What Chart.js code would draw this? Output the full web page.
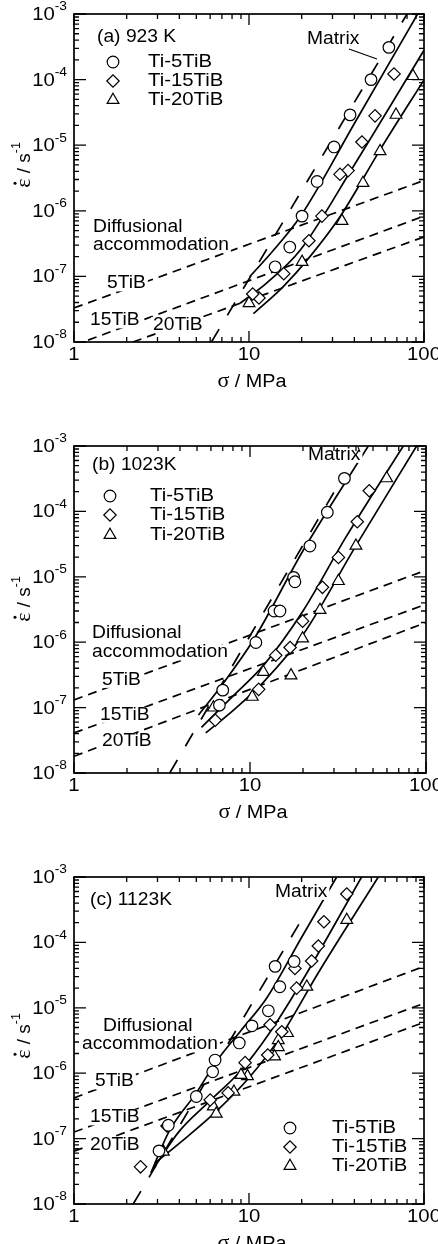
<!DOCTYPE html>
<html>
<head>
<meta charset="utf-8">
<title>Creep rate vs stress, Ti-TiB</title>
<script src="https://cdn.jsdelivr.net/npm/chart.js@4.4.1/dist/chart.umd.min.js"></script>
<style>
  html, body { margin: 0; padding: 0; background: #fff; }
  body { width: 438px; height: 1244px; position: relative; overflow: hidden; }
  .panel { position: absolute; left: 0; width: 438px; }
</style>
</head>
<body>
<div class="panel" style="top:0;height:400px"><canvas id="panelA"></canvas></div>
<div class="panel" style="top:400px;height:420px"><canvas id="panelB"></canvas></div>
<div class="panel" style="top:820px;height:424px"><canvas id="panelC"></canvas></div>
<script>
// axis ticks
const xMajor = [1, 10, 100];
const xMinor = [2, 3, 4, 5, 6, 7, 8, 9, 20, 30, 40, 50, 60, 70, 80, 90];
const yExps = [-8, -7, -6, -5, -4, -3];
const yMinorMult = [2, 3, 4, 5, 6, 7, 8, 9];

// (a) 923 K - measured points
const aTi5X = [63, 49.8, 37.8, 30.6, 24.5, 20.1, 17.1, 14.1];
const aTi5Y = [3.1e-4, 1.0e-4, 2.9e-5, 9.4e-6, 2.8e-6, 8.3e-7, 2.8e-7, 1.4e-7];
const aTi15X = [67.4, 52.5, 44.2, 36.8, 33.1, 26.1, 22.0, 15.8, 11.4, 10.5];
const aTi15Y = [1.22e-4, 2.8e-5, 1.12e-5, 4.1e-6, 3.6e-6, 8.3e-7, 3.5e-7, 1.1e-7, 4.7e-8, 5.4e-8];
const aTi20X = [86.5, 69.2, 56.1, 44.8, 34, 20.1, 10];
const aTi20Y = [1.13e-4, 2.9e-5, 8.1e-6, 2.65e-6, 7.0e-7, 1.66e-7, 3.9e-8];
// (a) lines
const aMatrixX = [6.1, 80];
const aMatrixY = [1e-8, 1e-3];
const aFit5X = [10.1, 13.8, 19.6, 41, 92];
const aFit5Y = [9.9e-8, 2.5e-7, 8.1e-7, 2.4e-5, 1e-3];
const aFit15X = [8.9, 12.6, 19.6, 39.4, 100];
const aFit15Y = [3.9e-8, 7.9e-8, 2.5e-7, 4.7e-6, 2.8e-4];
const aFit20X = [10.6, 15.7, 22.3, 33.1, 56.1, 100];
const aFit20Y = [2.7e-8, 7e-8, 2e-7, 8.1e-7, 8.5e-6, 9.9e-5];
const aDiff5X = [1, 100], aDiff5Y = [3.3e-8, 2.9e-6];
const aDiff15X = [1, 100], aDiff15Y = [8.9e-9, 8.3e-7];
const aDiff20X = [2.17, 100], aDiff20Y = [1e-8, 4.0e-7];

// (b) 1023 K - measured points
const bTi5X = [34.4, 27.5, 21.9, 17.7, 18.0, 13.7, 14.8, 10.8, 7.0, 6.7];
const bTi5Y = [3.2e-4, 9.7e-5, 2.95e-5, 9.8e-6, 8.4e-6, 3.0e-6, 3.0e-6, 9.9e-7, 1.85e-7, 1.09e-7];
const bTi15X = [47.6, 40.7, 31.8, 25.8, 19.9, 16.9, 14.0, 11.2, 6.35];
const bTi15Y = [2.07e-4, 6.95e-5, 1.98e-5, 6.9e-6, 2.1e-6, 8.3e-7, 6.3e-7, 1.9e-7, 6.4e-8];
const bTi20X = [59.8, 40.0, 31.8, 25.0, 19.9, 11.9, 17.1, 10.3, 6.2];
const bTi20Y = [3.2e-4, 2.98e-5, 8.6e-6, 3.1e-6, 1.14e-6, 3.5e-7, 3.1e-7, 1.46e-7, 1.0e-7];
// (b) lines
const bMatrixX = [3.5, 34];
const bMatrixY = [1e-8, 3.5e-4];
const bFit5X = [5.1, 7, 10.5, 20, 47];
const bFit5Y = [7.7e-8, 2.3e-7, 1.1e-6, 2.5e-5, 1e-3];
const bFit15X = [5.3, 8, 12, 20, 35, 74.3];
const bFit15Y = [5e-8, 1.5e-7, 4.5e-7, 3e-6, 4e-5, 1e-3];
const bFit20X = [5.6, 8, 12, 20, 40, 88.5];
const bFit20Y = [4.1e-8, 9e-8, 2.5e-7, 1.3e-6, 3e-5, 1e-3];
const bDiff5X = [1, 100], bDiff5Y = [1.31e-7, 1.26e-5];
const bDiff15X = [1, 100], bDiff15Y = [4.1e-8, 3.8e-6];
const bDiff20X = [1, 100], bDiff20Y = [1.8e-8, 2.0e-6];

// (c) 1123 K - measured points
const cTi5X = [14.1, 18.1, 15.0, 12.9, 10.4, 8.8, 6.4, 6.2, 5.0, 3.46, 3.06];
const cTi5Y = [4.3e-5, 5.1e-5, 2.1e-5, 9.0e-6, 5.3e-6, 2.9e-6, 1.59e-6, 1.05e-6, 4.4e-7, 1.6e-7, 6.5e-8];
const cTi15X = [36.2, 26.8, 24.9, 22.8, 18.3, 18.7, 15.4, 13.2, 12.8, 9.5, 7.6, 6.0, 3.4, 2.4];
const cTi15Y = [5.5e-4, 2.07e-4, 8.8e-5, 5.2e-5, 4.0e-5, 2.0e-5, 4.3e-6, 5.5e-6, 1.9e-6, 1.45e-6, 5.0e-7, 3.9e-7, 1.56e-7, 3.7e-8];
const cTi20X = [36.2, 21.4, 16.6, 14.7, 14.7, 14.0, 9.8, 9.0, 8.2, 6.25, 6.5, 3.24];
const cTi20Y = [2.2e-4, 2.1e-5, 4.1e-6, 3.2e-6, 2.5e-6, 1.8e-6, 9.0e-7, 9.4e-7, 5.2e-7, 3.1e-7, 2.4e-7, 6.3e-8];
// (c) lines
const cMatrixX = [2.18, 20.5];
const cMatrixY = [1e-8, 2.5e-4];
const cFit5X = [2.75, 3.5, 5, 6.5, 9, 12.6, 20, 31.7];
const cFit5Y = [3e-8, 1.3e-7, 5e-7, 1.5e-6, 4.5e-6, 1.4e-5, 1.2e-4, 1e-3];
const cFit15X = [2.85, 4, 6, 9, 13, 20, 44];
const cFit15Y = [3.5e-8, 1.3e-7, 3.8e-7, 1.1e-6, 4e-6, 2.5e-5, 1e-3];
const cFit20X = [2.9, 4.5, 6.5, 10, 15, 25, 54.8];
const cFit20Y = [4.2e-8, 1.1e-7, 2.6e-7, 8.5e-7, 3.5e-6, 3.5e-5, 1e-3];
const cDiff5X = [1, 100], cDiff5Y = [4.2e-7, 4.3e-5];
const cDiff15X = [1, 100], cDiff15Y = [1.26e-7, 1.17e-5];
const cDiff20X = [1, 100], cDiff20Y = [6.4e-8, 6e-6];

const legendNames = ['Ti-5TiB', 'Ti-15TiB', 'Ti-20TiB'];
const markerStyles = ['circle', 'rectRot', 'triangle'];
const markerSizes = [5.8, 6.2, 6.8];

const SANS = '"Liberation Sans", Arial, sans-serif';
const SERIF = '"Liberation Serif", "Times New Roman", serif';
const SX = 1.1; // the original figure is a bit wider than tall

function pts(xs, ys) {
    return xs.map((x, i) => ({ x: x, y: ys[i] }));
}

function markerSet(xs, ys, k) {
    return {
        data: pts(xs, ys), showLine: false, order: 0,
        pointStyle: markerStyles[k], pointRadius: markerSizes[k],
        pointBorderWidth: 1.2, pointBorderColor: '#000', pointBackgroundColor: '#fff'
    };
}

function lineSet(xs, ys, dash, curved) {
    return {
        data: pts(xs, ys), showLine: true, order: 1, fill: false,
        pointRadius: 0, borderColor: '#000', borderWidth: 1.7,
        borderDash: dash, cubicInterpolationMode: curved ? 'monotone' : 'default'
    };
}

const MATRIX_DASH = [15, 16];
const DIFF_DASH = [9, 6];

function buildSets(m5, m15, m20, matrix, f5, f15, f20, d5, d15, d20) {
    return [
        markerSet(m5[0], m5[1], 0),
        markerSet(m15[0], m15[1], 1),
        markerSet(m20[0], m20[1], 2),
        lineSet(matrix[0], matrix[1], MATRIX_DASH, false),
        lineSet(f5[0], f5[1], [], true),
        lineSet(f15[0], f15[1], [], true),
        lineSet(f20[0], f20[1], [], true),
        lineSet(d5[0], d5[1], DIFF_DASH, false),
        lineSet(d15[0], d15[1], DIFF_DASH, false),
        lineSet(d20[0], d20[1], DIFF_DASH, false)
    ];
}

// text helper, draws with a slight horizontal stretch
function drawText(ctx, str, x, y, size, align, family, bg) {
    ctx.save();
    ctx.font = size + 'px ' + (family || SANS);
    ctx.textBaseline = 'middle';
    const w = ctx.measureText(str).width * SX;
    const x0 = align === 'right' ? x - w : (align === 'center' ? x - w / 2 : x);
    if (bg) {
        ctx.fillStyle = '#fff';
        ctx.fillRect(x0 - 2, y - size * 0.45, w + 4, size * 0.9);
    }
    ctx.fillStyle = '#000';
    ctx.translate(x0, y);
    ctx.scale(SX, 1);
    ctx.fillText(str, 0, 0);
    ctx.restore();
    return w;
}

function drawMarker(ctx, style, x, y, r) {
    ctx.beginPath();
    if (style === 'circle') {
        ctx.arc(x, y, r, 0, Math.PI * 2);
    } else if (style === 'rectRot') {
        ctx.moveTo(x - r, y); ctx.lineTo(x, y - r); ctx.lineTo(x + r, y); ctx.lineTo(x, y + r);
        ctx.closePath();
    } else {
        for (let i = 0; i < 3; i++) {
            const a = i * 2 * Math.PI / 3;
            const px = x + Math.sin(a) * r, py = y - Math.cos(a) * r;
            if (i === 0) ctx.moveTo(px, py); else ctx.lineTo(px, py);
        }
        ctx.closePath();
    }
    ctx.fillStyle = '#fff';
    ctx.fill();
    ctx.lineWidth = 1.2;
    ctx.strokeStyle = '#000';
    ctx.stroke();
}

function decorPlugin(p) {
    return {
        id: 'decor',
        afterDatasetsDraw(chart) {
            const ctx = chart.ctx, a = chart.chartArea;
            const xs = chart.scales.x, ys = chart.scales.y;
            ctx.save();
            ctx.strokeStyle = '#000';

            // annotation texts (white box hides the dashed lines under them)
            p.notes.forEach(n => drawText(ctx, n[0], n[1], n[2], 17.5, 'left', SANS, true));
            drawText(ctx, p.label[0], p.label[1], p.label[2], 17.5, 'left');
            drawText(ctx, 'Matrix', p.matrix[0], p.matrix[1], 17.5, 'left', SANS, true);
            if (p.leader) {
                ctx.lineWidth = 1.1;
                ctx.beginPath();
                ctx.moveTo(p.leader[0], p.leader[1]);
                ctx.lineTo(p.leader[2], p.leader[3]);
                ctx.stroke();
            }

            // legend
            legendNames.forEach((name, k) => {
                drawMarker(ctx, markerStyles[k], p.legend.x, p.legend.ys[k], markerSizes[k]);
                drawText(ctx, name, p.legend.textX, p.legend.ys[k], 18.5, 'left');
            });

            // frame
            ctx.lineWidth = 1.7;
            ctx.strokeRect(a.left, a.top, a.right - a.left, a.bottom - a.top);

            // inward ticks on all four sides
            ctx.lineWidth = 1.3;
            ctx.beginPath();
            const vx = (v, len) => {
                const px = xs.getPixelForValue(v);
                ctx.moveTo(px, a.bottom); ctx.lineTo(px, a.bottom - len);
                ctx.moveTo(px, a.top); ctx.lineTo(px, a.top + len);
            };
            const hy = (v, len) => {
                const py = ys.getPixelForValue(v);
                ctx.moveTo(a.left, py); ctx.lineTo(a.left + len, py);
                ctx.moveTo(a.right, py); ctx.lineTo(a.right - len, py);
            };
            xMajor.forEach(v => vx(v, 11));
            xMinor.forEach(v => vx(v, 5));
            yExps.forEach(e => {
                hy(Math.pow(10, e), 12);
                if (e < -3) yMinorMult.forEach(m => hy(m * Math.pow(10, e), 5));
            });
            ctx.stroke();

            // tick labels
            xMajor.forEach(v => drawText(ctx, String(v), xs.getPixelForValue(v), a.bottom + 13, 18.5, 'center'));
            yExps.forEach(e => {
                const py = ys.getPixelForValue(Math.pow(10, e));
                const ew = drawText(ctx, String(e), a.left - 7, py - 7, 12.5, 'right');
                drawText(ctx, '10', a.left - 7 - ew, py + 1, 18.5, 'right');
            });

            // x title
            ctx.font = '20px ' + SERIF;
            const sw = ctx.measureText('\u03c3').width * SX;
            ctx.font = '18px ' + SANS;
            const rw = ctx.measureText(' / MPa').width * SX;
            const cx = (a.left + a.right) / 2 + 3 - (sw + rw) / 2;
            drawText(ctx, '\u03c3', cx, a.bottom + 40, 20, 'left', SERIF);
            drawText(ctx, ' / MPa', cx + sw, a.bottom + 40, 18, 'left');

            // y title, rotated
            ctx.save();
            ctx.translate(30, p.titleY);
            ctx.rotate(-Math.PI / 2);
            ctx.fillStyle = '#000';
            ctx.textBaseline = 'alphabetic';
            ctx.font = '22px ' + SERIF;
            const epsW = ctx.measureText('\u03b5').width;
            ctx.font = '19px ' + SANS;
            const midW = ctx.measureText(' / s').width;
            ctx.font = '12.5px ' + SANS;
            const supW = ctx.measureText('-1').width;
            let tx = -(epsW + midW + supW) / 2;
            ctx.font = '22px ' + SERIF;
            ctx.fillText('\u03b5', tx, 0);
            ctx.beginPath();
            ctx.arc(tx + epsW / 2, -15, 1.5, 0, Math.PI * 2);
            ctx.fill();
            tx += epsW;
            ctx.font = '19px ' + SANS;
            ctx.fillText(' / s', tx, 0);
            tx += midW;
            ctx.font = '12.5px ' + SANS;
            ctx.fillText('-1', tx, -10);
            ctx.restore();

            ctx.restore();
        }
    };
}

function makePanel(p) {
    new Chart(document.getElementById(p.canvas), {
        type: 'scatter',
        data: { datasets: p.sets },
        options: {
            responsive: true,
            maintainAspectRatio: false,
            animation: false,
            events: [],
            devicePixelRatio: 1,
            layout: { padding: { top: p.top, right: p.right, left: 0, bottom: 0 } },
            plugins: { legend: { display: false }, tooltip: { enabled: false }, title: { display: false } },
            scales: {
                x: {
                    type: 'logarithmic', min: 1, max: 100,
                    grid: { display: false }, border: { display: false }, ticks: { display: false },
                    afterFit: s => { s.height = p.axisH; }
                },
                y: {
                    type: 'logarithmic', min: 1e-8, max: 1e-3,
                    grid: { display: false }, border: { display: false }, ticks: { display: false },
                    afterFit: s => { s.width = 74; }
                }
            }
        },
        plugins: [decorPlugin(p)]
    });
}

makePanel({
    canvas: 'panelA', top: 14, right: 14, axisH: 58, titleY: 165,
    label: ['(a) 923 K', 97, 37.5],
    matrix: [307, 39.5], leader: [349, 49, 377, 59],
    legend: { x: 113, textX: 148, ys: [62, 81, 100] },
    notes: [['Diffusional', 93, 227.5], ['accommodation', 93, 245], ['5TiB', 107, 283.5],
            ['15TiB', 90, 320.5], ['20TiB', 153, 325]],
    sets: buildSets([aTi5X, aTi5Y], [aTi15X, aTi15Y], [aTi20X, aTi20Y], [aMatrixX, aMatrixY],
        [aFit5X, aFit5Y], [aFit15X, aFit15Y], [aFit20X, aFit20Y],
        [aDiff5X, aDiff5Y], [aDiff15X, aDiff15Y], [aDiff20X, aDiff20Y])
});

makePanel({
    canvas: 'panelB', top: 46, right: 12, axisH: 47, titleY: 199,
    label: ['(b) 1023K', 92, 65],
    matrix: [308, 55], leader: [358, 47, 360, 52],
    legend: { x: 110, textX: 150, ys: [96, 115, 135] },
    notes: [['Diffusional', 92, 233.5], ['accommodation', 92, 252.5], ['5TiB', 102, 280],
            ['15TiB', 100, 315], ['20TiB', 102, 341.5]],
    sets: buildSets([bTi5X, bTi5Y], [bTi15X, bTi15Y], [bTi20X, bTi20Y], [bMatrixX, bMatrixY],
        [bFit5X, bFit5Y], [bFit15X, bFit15Y], [bFit20X, bFit20Y],
        [bDiff5X, bDiff5Y], [bDiff15X, bDiff15Y], [bDiff20X, bDiff20Y])
});

makePanel({
    canvas: 'panelC', top: 57, right: 14, axisH: 40, titleY: 216,
    label: ['(c) 1123K', 90, 80.5],
    matrix: [275, 72], leader: null,
    legend: { x: 290, textX: 332, ys: [308, 327, 346] },
    notes: [['Diffusional', 103, 206.5], ['accommodation', 82, 224.5], ['5TiB', 95, 261.5],
            ['15TiB', 90, 297.5], ['20TiB', 90, 325]],
    sets: buildSets([cTi5X, cTi5Y], [cTi15X, cTi15Y], [cTi20X, cTi20Y], [cMatrixX, cMatrixY],
        [cFit5X, cFit5Y], [cFit15X, cFit15Y], [cFit20X, cFit20Y],
        [cDiff5X, cDiff5Y], [cDiff15X, cDiff15Y], [cDiff20X, cDiff20Y])
});
</script>
</body>
</html>
